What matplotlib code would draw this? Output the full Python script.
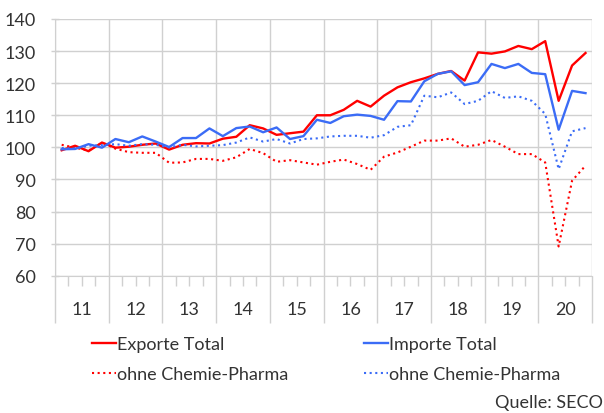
import matplotlib

matplotlib.use("Agg")
import matplotlib.pyplot as plt
import numpy as np

# quarterly index values 2011Q1 .. 2020Q4
years = ["11", "12", "13", "14", "15", "16", "17", "18", "19", "20"]

exporte_total = [
    99.1, 100.5, 98.8, 101.5, 99.9, 100.2, 100.8, 101.2,
    99.3, 100.8, 101.3, 101.2, 102.7, 103.3, 106.9, 105.9,
    103.9, 104.4, 104.9, 110.0, 110.0, 111.7, 114.5, 112.7,
    116.1, 118.7, 120.3, 121.5, 122.9, 123.8, 120.8, 129.6,
    129.2, 129.9, 131.6, 130.6, 133.1, 114.5, 125.5, 129.4,
]
importe_total = [
    99.4, 99.5, 101.0, 99.9, 102.6, 101.6, 103.4, 101.8,
    100.1, 102.9, 102.9, 105.9, 103.5, 106.0, 106.5, 104.7,
    106.2, 102.6, 103.5, 108.6, 107.6, 109.7, 110.2, 109.8,
    108.6, 114.4, 114.3, 120.6, 122.9, 123.7, 119.4, 120.3,
    126.0, 124.7, 126.0, 123.2, 122.8, 105.5, 117.6, 116.9,
]
exporte_ohne = [
    100.8, 99.9, 99.0, 101.4, 99.6, 98.5, 98.3, 98.3,
    95.2, 95.3, 96.4, 96.4, 95.8, 96.9, 99.5, 98.2,
    95.5, 96.0, 95.3, 94.6, 95.5, 96.2, 94.8, 93.0,
    97.1, 98.4, 100.2, 102.1, 102.1, 102.8, 100.2, 100.8,
    102.3, 100.2, 97.9, 97.9, 95.3, 69.1, 89.6, 94.3,
]
importe_ohne = [
    99.8, 99.6, 100.5, 100.7, 101.0, 100.5, 101.0, 100.8,
    100.0, 100.8, 100.3, 100.5, 100.7, 101.5, 103.1, 101.8,
    102.6, 101.2, 102.6, 102.8, 103.4, 103.6, 103.6, 103.0,
    103.8, 106.4, 106.9, 116.1, 115.6, 117.1, 113.5, 114.5,
    117.5, 115.4, 115.9, 114.5, 110.4, 93.2, 105.0, 106.0,
]

RED = "#ff0000"
BLUE = "#3b6cf6"
GRID = "#d0d0d0"
TEXT = "#333333"

plt.rcParams["font.family"] = ["Lato", "DejaVu Sans"]

fig = plt.figure(figsize=(6.04, 4.14), dpi=100)
ax = fig.add_axes([0.0910, 0.3316, 0.8895, 0.6201])

x = np.arange(len(exporte_total))
ax.plot(x, exporte_total, color=RED, lw=1.7, label="Exporte Total")
ax.plot(x, exporte_ohne, color=RED, lw=1.5, ls=(0, (1, 1.7)), label="ohne Chemie-Pharma")
ax.plot(x, importe_total, color=BLUE, lw=1.7, label="Importe Total")
ax.plot(x, importe_ohne, color=BLUE, lw=1.5, ls=(0, (1, 1.7)), label="ohne Chemie-Pharma")

ax.set_xlim(-0.5, len(x) - 0.5)
ax.set_ylim(60, 140)
ax.set_yticks(np.arange(60, 141, 10))
ax.tick_params(axis="y", direction="inout", length=6, width=1.0, color=GRID,
               pad=11, labelsize=13, labelcolor=TEXT)

# year separators as long major ticks, quarter ticks as minor ticks
ax.set_xticks(np.arange(-0.5, len(x), 4))
ax.set_xticks(np.arange(-0.5, len(x), 1), minor=True)
ax.tick_params(axis="x", which="major", length=34, width=1.0, color=GRID, labelbottom=False)
ax.tick_params(axis="x", which="minor", length=7, width=1.0, color=GRID)

sec = ax.secondary_xaxis("bottom")
sec.set_xticks(np.arange(1.5, len(x), 4))
sec.set_xticklabels(years)
sec.tick_params(length=0, pad=18, labelsize=13, colors=TEXT)
sec.spines["bottom"].set_visible(False)

ax.grid(True, which="major", color=GRID, lw=1.0)
ax.set_axisbelow(True)
for side in ["top", "right"]:
    ax.spines[side].set_visible(False)
ax.spines["bottom"].set_color(GRID)
ax.spines["left"].set_color(GRID)

fig.legend(
    loc="upper left",
    bbox_to_anchor=(0.153, 0.185),
    ncol=2,
    frameon=False,
    fontsize=13,
    handlelength=1.33,
    handletextpad=0.05,
    columnspacing=4.2,
    labelspacing=0.75,
    borderaxespad=0,
    borderpad=0,
    labelcolor=TEXT,
)

fig.text(0.998, 0.008, "Quelle: SECO", ha="right", va="bottom", fontsize=13, color=TEXT)

fig.savefig("out.png", dpi=100)
